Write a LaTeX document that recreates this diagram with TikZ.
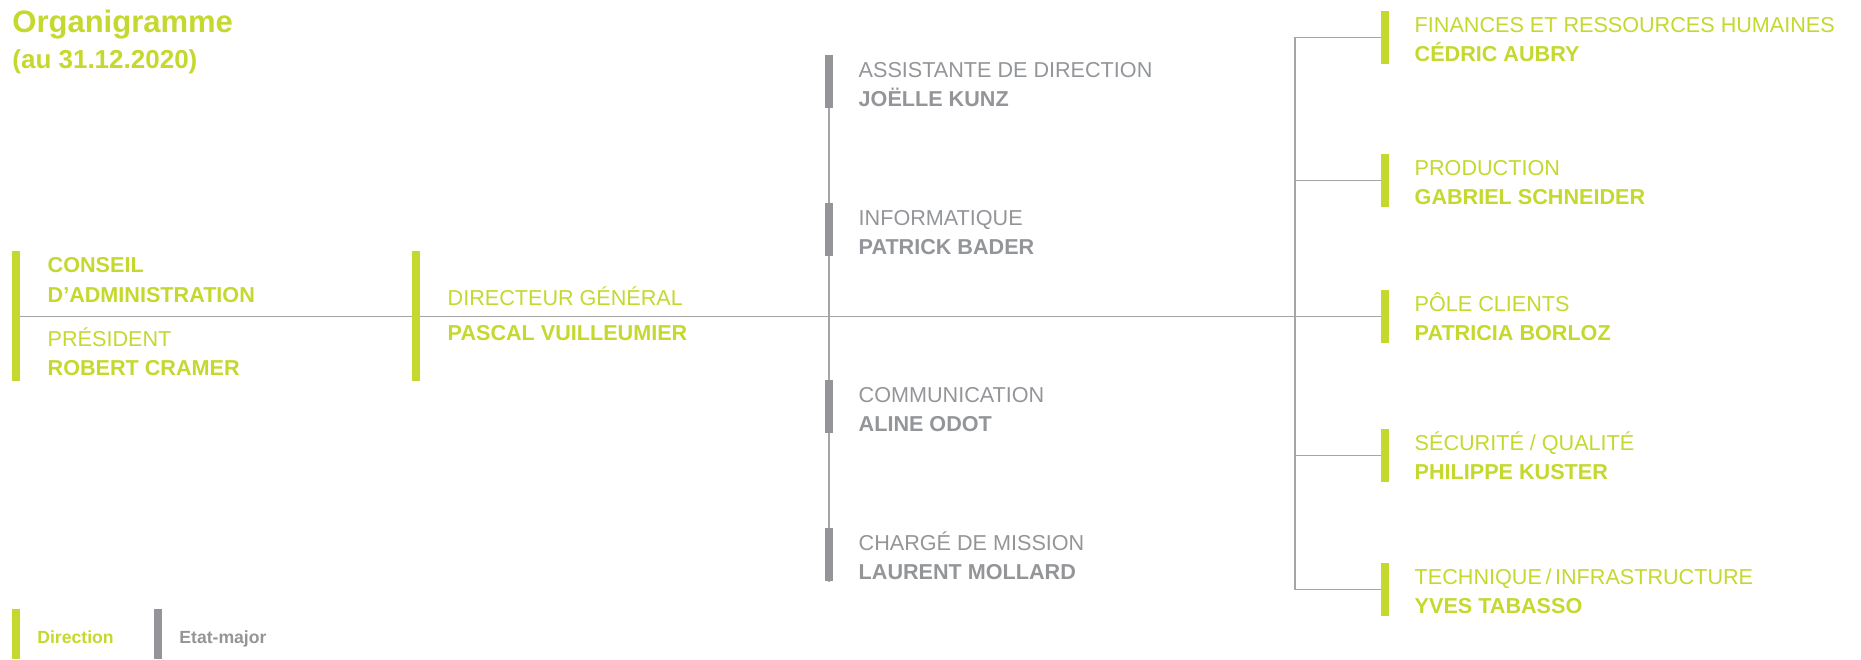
\documentclass[tikz,border=0pt]{standalone}
\usepackage{fontspec}
\setmainfont{Liberation Sans}
\usetikzlibrary{positioning,backgrounds}
\definecolor{dirgreen}{RGB}{196,216,46}
\definecolor{staffgray}{RGB}{147,149,152}
\definecolor{rulegray}{RGB}{165,165,165}

\begin{document}
\begin{tikzpicture}[
      x=0.5pt, y=-0.5pt,
      bar/.style={
        fill=#1,
        minimum width=3.75pt,
        minimum height=26.5pt,
        inner sep=0pt
      },
      head/.style={
        text=#1,
        anchor=base west,
        inner sep=0pt,
        font=\fontsize{10.8}{13}\selectfont
      },
      who/.style={head=#1, font=\fontsize{10.8}{13}\selectfont\bfseries},
      key/.style={head=#1, font=\fontsize{8.8}{10}\selectfont\bfseries},
      link/.style={draw=rulegray, line width=0.7pt}]

      \useasboundingbox (0,0) rectangle (1861,659);

      % Draw the title.
      \node[head=dirgreen, font=\fontsize{15.5}{18}\selectfont\bfseries]
        (title) at (12,32) {Organigramme};
      \node[head=dirgreen, font=\fontsize{13}{15}\selectfont\bfseries]
        (date) at (12,68) {(au 31.12.2020)};

      % Draw the board and the general director.
      \node[bar=dirgreen, minimum height=65pt, anchor=north west] (ca) at (12,251) {};
      \node[who=dirgreen] (ca-t) at ([xshift=13.5pt, yshift=-10.5pt] ca.north east) {CONSEIL};
      \node[who=dirgreen] (ca-n) at ([xshift=13.5pt, yshift=-25.5pt] ca.north east) {D’ADMINISTRATION};
      \node[head=dirgreen] (pr-t) at ([xshift=13.5pt, yshift=-47.5pt] ca.north east) {PRÉSIDENT};
      \node[who=dirgreen] (pr-n) at ([xshift=13.5pt, yshift=-62pt] ca.north east) {ROBERT CRAMER};

      \node[bar=dirgreen, minimum height=65pt, anchor=north west] (dg) at (412,251) {};
      \node[head=dirgreen] (dg-t) at ([xshift=13.5pt, yshift=-27pt] dg.north east) {DIRECTEUR GÉNÉRAL};
      \node[who=dirgreen] (dg-n) at ([xshift=13.5pt, yshift=-44.5pt] dg.north east) {PASCAL VUILLEUMIER};

      % Helper: one unit, with its bar, its title and its head.
      \def\un#1#2#3#4#5{
        \node[bar=#2, anchor=north west] (#1) at #3 {};
        \node[head=#2] (#1-t) at ([xshift=12.5pt, yshift=-11pt] #1.north east) {#4};
        \node[who=#2] (#1-n) at ([xshift=12.5pt, yshift=-25.5pt] #1.north east) {#5};
      }

      % Draw the staff units.
      \un{ad}{staffgray}{(825,55)}{ASSISTANTE DE DIRECTION}{JOËLLE KUNZ}
      \un{it}{staffgray}{(825,203)}{INFORMATIQUE}{PATRICK BADER}
      \un{com}{staffgray}{(825,380)}{COMMUNICATION}{ALINE ODOT}
      \un{cdm}{staffgray}{(825,528)}{CHARGÉ DE MISSION}{LAURENT MOLLARD}

      % Draw the departments.
      \un{fin}{dirgreen}{(1381,10.5)}{FINANCES ET RESSOURCES HUMAINES}{CÉDRIC AUBRY}
      \un{prd}{dirgreen}{(1381,153.5)}{PRODUCTION}{GABRIEL SCHNEIDER}
      \un{pc}{dirgreen}{(1381,289.5)}{PÔLE CLIENTS}{PATRICIA BORLOZ}
      \un{sq}{dirgreen}{(1381,428.5)}{SÉCURITÉ / QUALITÉ}{PHILIPPE KUSTER}
      \un{tec}{dirgreen}{(1381,562.5)}{TECHNIQUE\,/\,INFRASTRUCTURE}{YVES TABASSO}

      % Draw the key.
      \node[bar=dirgreen, minimum height=25pt, anchor=north west] (kd) at (12,609) {};
      \node[key=dirgreen] (kd-t) at (37,643) {Direction};
      \node[bar=staffgray, minimum height=25pt, anchor=north west] (ke) at (154,609) {};
      \node[key=staffgray] (ke-t) at (179,643) {Etat-major};

      % Draw the links behind the bars.
      \coordinate (hub) at (1295,316);
      \begin{scope}[on background layer]
        \draw[link] (ca.east) -- (pc.west);
        \draw[link] (ad.north) -- (cdm.south);
        \draw[link] (fin.west) -| (hub) |- (tec.west);
        \draw[link] (prd.west) -| (hub);
        \draw[link] (sq.west) -| (hub);
      \end{scope}

    \end{tikzpicture}
\end{document}
